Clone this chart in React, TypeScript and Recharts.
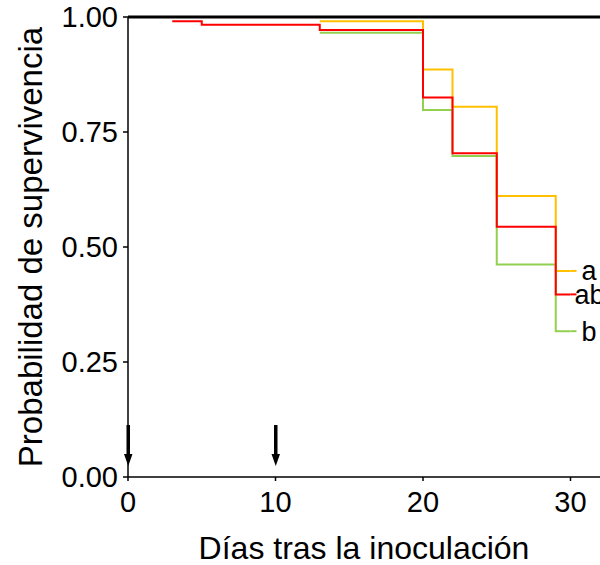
import {
  Label,
  LabelList,
  Line,
  LineChart,
  ReferenceLine,
  XAxis,
  YAxis,
} from 'recharts';

const FONT = '"Liberation Sans", Arial, sans-serif';

// Kaplan-Meier steps: [day, survival]
const yellowDays = [13, 20, 22, 25, 29, 30];
const yellowSurv = [0.991, 0.886, 0.805, 0.611, 0.448, 0.448];
const redDays = [3, 5, 13, 20, 22, 25, 29, 30];
const redSurv = [0.991, 0.983, 0.972, 0.825, 0.704, 0.544, 0.397, 0.397];
const greenDays = [13, 20, 22, 25, 29, 30];
const greenSurv = [0.966, 0.798, 0.698, 0.462, 0.317, 0.317];

const groupLabels = { yellow: 'a', red: 'ab', green: 'b' };
const xTicks = [0, 10, 20, 30];
const yTicks = [0, 0.25, 0.5, 0.75, 1];
const arrowDays = [0, 10];
const arrowTop = 0.113;
const arrowTip = 0.024;

const toRows = (days: number[], surv: number[]) =>
  days.map((d, i) => ({ day: d, s: surv[i] }));

const yellow = toRows(yellowDays, yellowSurv);
const red = toRows(redDays, redSurv);
const green = toRows(greenDays, greenSurv);

function endLabel(text: string, color: string, dx: number, count: number) {
  return (props: any) => {
    if (props.index !== count - 1) return null;
    const x = Number(props.x);
    const y = Number(props.y);
    return (
      <g>
        <line x1={x} y1={y} x2={x + 6} y2={y} stroke={color} strokeWidth={2} />
        <text
          x={x + dx}
          y={y}
          dy="0.35em"
          fontFamily={FONT}
          fontSize={27}
          fill="#000"
        >
          {text}
        </text>
      </g>
    );
  };
}

function Arrow(props: any) {
  const x = Number(props.x1);
  const top = Math.min(props.y1, props.y2);
  const tip = Math.max(props.y1, props.y2);
  return (
    <g>
      <rect x={x - 1.5} y={top} width={3.5} height={tip - top - 10} fill="#000" />
      <path d={`M${x - 4},${tip - 12} L${x + 4.5},${tip - 12} L${x + 0.25},${tip} Z`} fill="#000" />
    </g>
  );
}

export default function App() {
  return (
    <div style={{ position: 'fixed', left: 0, top: 0, background: '#fff' }}>
      <LineChart
        width={600}
        height={565}
        margin={{ top: 17, right: 0, bottom: 0, left: 0 }}
      >
        <XAxis
          type="number"
          dataKey="day"
          domain={[0, 32]}
          ticks={xTicks}
          allowDataOverflow
          stroke="#000"
          strokeWidth={1.5}
          tickSize={4}
          tickMargin={10}
          height={88}
          tick={{ fill: '#000', fontSize: 29, fontFamily: FONT }}
        >
          <Label
            value="Días tras la inoculación"
            position="insideBottom"
            offset={6}
            style={{ fill: '#000', fontSize: 32, fontFamily: FONT }}
          />
        </XAxis>
        <YAxis
          type="number"
          domain={[0, 1]}
          ticks={yTicks}
          width={128}
          stroke="#000"
          strokeWidth={1.5}
          tickSize={5}
          tickMargin={5}
          tickFormatter={(v: number) => v.toFixed(2)}
          tick={{ fill: '#000', fontSize: 29, fontFamily: FONT }}
        >
          <Label
            content={(p: any) => {
              const vb = p.viewBox || {};
              const cx = 30;
              const cy = (vb.y ?? 17) + (vb.height ?? 460) / 2;
              return (
                <text
                  x={cx}
                  y={cy}
                  transform={`rotate(-90 ${cx} ${cy})`}
                  textAnchor="middle"
                  dominantBaseline="central"
                  fontFamily={FONT}
                  fontSize={33}
                  fill="#000"
                >
                  Probabilidad de supervivencia
                </text>
              );
            }}
          />
        </YAxis>
        <ReferenceLine y={1} stroke="#000" strokeWidth={3} />
        {arrowDays.map((d) => (
          <ReferenceLine
            key={d}
            segment={[
              { x: d, y: arrowTop },
              { x: d, y: arrowTip },
            ]}
            shape={Arrow}
          />
        ))}
        <Line
          data={yellow}
          dataKey="s"
          type="stepAfter"
          stroke="#FFC000"
          strokeWidth={2}
          dot={false}
          isAnimationActive={false}
        >
          <LabelList content={endLabel(groupLabels.yellow, '#FFC000', 11, yellow.length)} />
        </Line>
        <Line
          data={green}
          dataKey="s"
          type="stepAfter"
          stroke="#92D050"
          strokeWidth={2}
          dot={false}
          isAnimationActive={false}
        >
          <LabelList content={endLabel(groupLabels.green, '#92D050', 11, green.length)} />
        </Line>
        <Line
          data={red}
          dataKey="s"
          type="stepAfter"
          stroke="#FF0000"
          strokeWidth={2}
          dot={false}
          isAnimationActive={false}
        >
          <LabelList content={endLabel(groupLabels.red, '#FF0000', 4, red.length)} />
        </Line>
      </LineChart>
    </div>
  );
}
